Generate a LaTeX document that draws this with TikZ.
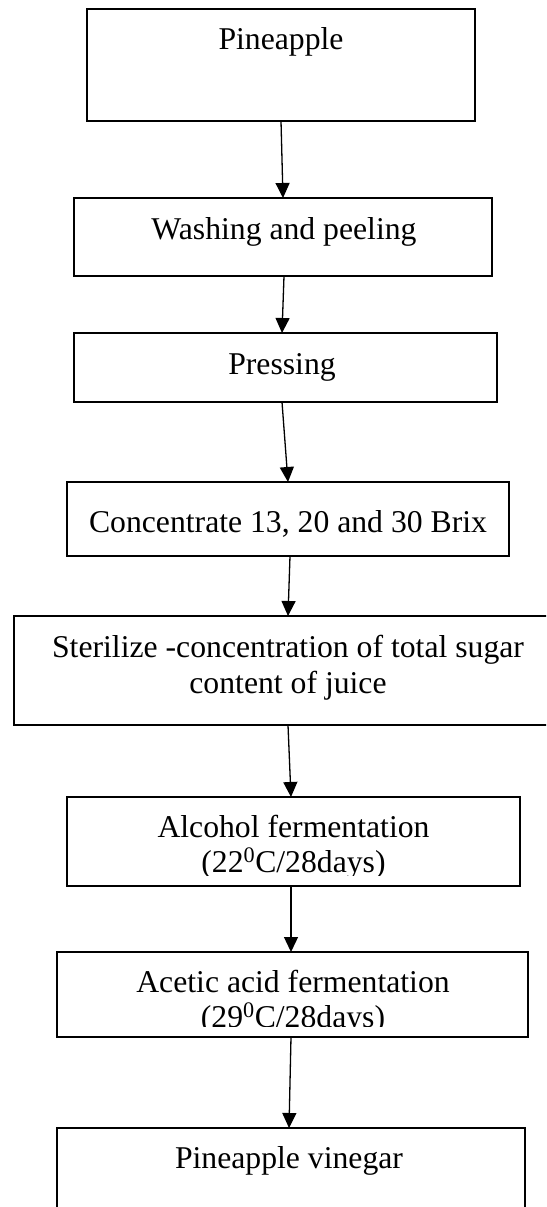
\documentclass[tikz,border=0pt]{standalone}
\usepackage{fontspec}
\setmainfont{Liberation Serif}
\usetikzlibrary{arrows.meta}
\begin{document}
\begin{tikzpicture}[x=1pt,y=-1pt,
  box/.style={draw,line width=1.3pt,anchor=north west,inner sep=0pt,outer sep=0pt},
  lbl/.style={anchor=base,inner sep=0pt,font=\fontsize{31.7}{36}\selectfont},
  flow/.style={line width=1.3pt,-{Triangle[width=14pt,length=15pt]}}]
\useasboundingbox (0,0) rectangle (546,1207);
\clip (0,0) rectangle (546,1207);
\fill[white] (0,0) rectangle (546,1207);
% boxes
\node[box,minimum width=388pt,minimum height=112pt] (b1) at (87,9) {};
\node[box,minimum width=418pt,minimum height=78pt] (b2) at (74,198) {};
\node[box,minimum width=423pt,minimum height=69pt] (b3) at (74,333) {};
\node[box,minimum width=442pt,minimum height=74pt] (b4) at (67,482) {};
\node[box,minimum width=546pt,minimum height=109pt] (b5) at (14,616) {};
\node[box,minimum width=453pt,minimum height=89pt] (b6) at (67,797) {};
\node[box,minimum width=471pt,minimum height=85pt] (b7) at (57,952) {};
\node[box,minimum width=468pt,minimum height=102pt] (b8) at (57,1128) {};
% labels
\node[lbl] (t1) at (281,49) {Pineapple};
\node[lbl] (t2) at (284,239) {Washing and peeling};
\node[lbl] (t3) at (282,374) {Pressing};
\node[lbl] (t4) at (288,532) {Concentrate 13, 20 and 30 Brix};
\node[lbl] (t5a) at (288,657) {Sterilize -concentration of total sugar};
\node[lbl] (t5b) at (288,693) {content of juice};
\node[lbl] (t6a) at (293.5,837) {Alcohol fermentation};
\begin{scope}
  \clip (b6.north west) rectangle ([yshift=11pt]b6.south east);
  \node[lbl] (t6b) at (293.5,872) {(22\textsuperscript{0}C/28days)};
\end{scope}
\node[lbl] (t7a) at (293,992) {Acetic acid fermentation};
\begin{scope}
  \clip (b7.north west) rectangle ([yshift=11pt]b7.south east);
  \node[lbl] (t7b) at (293,1027) {(29\textsuperscript{0}C/28days)};
\end{scope}
\node[lbl] (t8) at (289,1168) {Pineapple vinegar};
% arrows
\draw[flow] (b1.south) -- (b2.north);
\draw[flow] ([xshift=1pt]b2.south) -- ([xshift=-3.5pt]b3.north);
\draw[flow] ([xshift=-3.5pt]b3.south) -- (b4.north);
\draw[flow] ([xshift=2pt]b4.south) -- ([xshift=1pt]b5.north);
\draw[flow] ([xshift=1pt]b5.south) -- ([xshift=-2.5pt]b6.north);
\draw[flow] ([xshift=-2.5pt]b6.south) -- ([xshift=-1.5pt]b7.north);
\draw[flow] ([xshift=-1.5pt]b7.south) -- ([xshift=-2pt]b8.north);
\end{tikzpicture}
\end{document}
